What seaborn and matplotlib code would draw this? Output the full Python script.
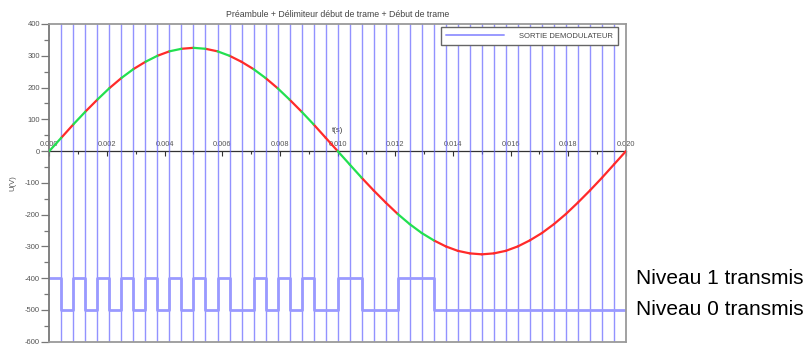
import numpy as np
import pandas as pd
import matplotlib
matplotlib.use("Agg")
import matplotlib.pyplot as plt
import matplotlib.transforms as mtransforms
from matplotlib.lines import Line2D
import seaborn as sns

# ---------------- data ----------------
title = "Préambule + Délimiteur début de trame + Début de trame"
duration = 0.020  # s, one mains period shown
# transmitted bits (preamble + frame delimiter + frame start)
bits = [1, 0, 1, 0, 1, 0, 1, 0, 1, 0, 1, 0, 1, 0, 1,
        0, 0, 1, 0, 1, 0, 1, 0, 0, 1, 1, 0, 0, 0, 1, 1, 1,
        0, 0, 0, 0, 0, 0, 0, 0, 0, 0, 0, 0, 0, 0, 0, 0]
level_1 = -400
level_0 = -500
# mains voltage read at each bit boundary (V)
voltage = [0, 42, 84, 124, 162, 198, 230, 258, 281, 300, 314, 322, 325,
           322, 314, 300, 281, 258, 230, 198, 162, 124, 84, 42, 0,
           -42, -84, -124, -162, -198, -230, -258, -281, -300, -314, -322, -325,
           -322, -314, -300, -281, -258, -230, -198, -162, -124, -84, -42, 0]
legend_label = "SORTIE DEMODULATEUR"
label_1 = "Niveau 1 transmis"
label_0 = "Niveau 0 transmis"
x_ticks = [0.000, 0.002, 0.004, 0.006, 0.008, 0.010, 0.012, 0.014, 0.016, 0.018, 0.020]
y_ticks = [-600, -500, -400, -300, -200, -100, 0, 100, 200, 300, 400]

# ---------------- build tables ----------------
n = len(bits)
period = duration / n
t_edges = np.arange(n + 1) * period
levels = [level_1 if b else level_0 for b in bits]
levels = levels + [levels[-1]]

rows = []
for k, b in enumerate(bits):
    rows.append({"t": t_edges[k], "v": voltage[k], "seg": k, "bit": b})
    rows.append({"t": t_edges[k + 1], "v": voltage[k + 1], "seg": k, "bit": b})
curve = pd.DataFrame(rows)
step = pd.DataFrame({"t": t_edges, "lvl": levels})

# ---------------- style ----------------
sns.set_style("white")
plt.rcParams["font.family"] = ["Liberation Sans", "DejaVu Sans"]
plt.rcParams["axes.unicode_minus"] = False

W, H = 811, 347
fig = plt.figure(figsize=(W / 100, H / 100), dpi=100)
ax_left, ax_right, ax_top, ax_bot = 49.3, 626.0, 24.0, 341.7
ax = fig.add_axes([ax_left / W, (H - ax_bot) / H, (ax_right - ax_left) / W, (ax_bot - ax_top) / H])

blue_v = "#6464ff"
blue_h = "#9a9aff"
red = "#ff2a2a"
green = "#22e050"

# vertical lines at every bit boundary
for k in range(1, n):
    ax.axvline(t_edges[k], color=blue_v, lw=1.0, alpha=0.7, zorder=1)

# demodulator output (step)
sns.lineplot(data=step, x="t", y="lvl", drawstyle="steps-post", estimator=None,
             color=blue_h, lw=2.0, ax=ax, zorder=2)

# mains voltage, coloured by transmitted bit
sns.lineplot(data=curve, x="t", y="v", hue="bit", units="seg", estimator=None,
             palette={0: red, 1: green}, lw=1.6, legend=False, ax=ax, zorder=3)

ax.set_xlim(0, duration)
ax.set_ylim(y_ticks[0], y_ticks[-1])

# box
for s in ["top", "right", "bottom", "left"]:
    ax.spines[s].set_visible(True)
    ax.spines[s].set_color("#9a9a9a")
    ax.spines[s].set_linewidth(1.3)
ax.spines["left"].set_color("#777777")

ax.set_xlabel("")
ax.set_ylabel("U(V)", fontsize=5.5, color="#555555", labelpad=6)
ax.tick_params(axis="x", bottom=False, labelbottom=False)

ax.set_yticks(y_ticks)
ax.set_yticklabels([str(v) for v in y_ticks])
ax.set_yticks([v + 50 for v in y_ticks[:-1]], minor=True)
ax.tick_params(axis="y", which="major", direction="out", length=5.8, width=0.9,
               color="#777777", labelsize=5.5, labelcolor="#555555", pad=0.8, left=True)
ax.tick_params(axis="y", which="minor", direction="out", length=3.6, width=0.9,
               color="#777777", left=True)

# x axis drawn at U = 0
frac0 = (0 - y_ticks[0]) / (y_ticks[-1] - y_ticks[0])
sec = ax.secondary_xaxis(frac0)
sec.set_xticks(x_ticks)
sec.set_xticklabels([f"{v:.3f}" for v in x_ticks])
sec.set_xticks([v + 0.001 for v in x_ticks[:-1]], minor=True)
sec.tick_params(axis="x", which="major", direction="in", length=3.5, width=0.8,
                color="#333333", labelsize=5.3, labelcolor="#555555", pad=2.5)
sec.tick_params(axis="x", which="minor", direction="in", length=2, width=0.8, color="#333333")
for s in sec.spines.values():
    s.set_color("#333333")
    s.set_linewidth(0.9)
sec.set_xlabel("t(s)", fontsize=5.5, color="#333333", labelpad=6)

ax.set_title(title, fontsize=6.3, color="#444444", pad=5)

# legend
handle = Line2D([], [], color=blue_h, lw=1.4)
leg = ax.legend([handle], [legend_label], loc="upper right",
                bbox_to_anchor=(0.986, 0.99), borderaxespad=0, fontsize=5.5,
                handlelength=7.6, handletextpad=1.9, borderpad=0.7,
                frameon=True, fancybox=False, framealpha=1, edgecolor="#666666")
leg.get_frame().set_linewidth(1.0)
for txt in leg.get_texts():
    txt.set_color("#444444")

# level annotations outside the plot
tr = mtransforms.blended_transform_factory(fig.transFigure, ax.transData)
ax.text(636 / W, level_1, label_1, transform=tr, va="center", ha="left",
        fontsize=15, color="black", clip_on=False)
ax.text(636 / W, level_0, label_0, transform=tr, va="center", ha="left",
        fontsize=15, color="black", clip_on=False)

fig.savefig("out.png", dpi=100)
